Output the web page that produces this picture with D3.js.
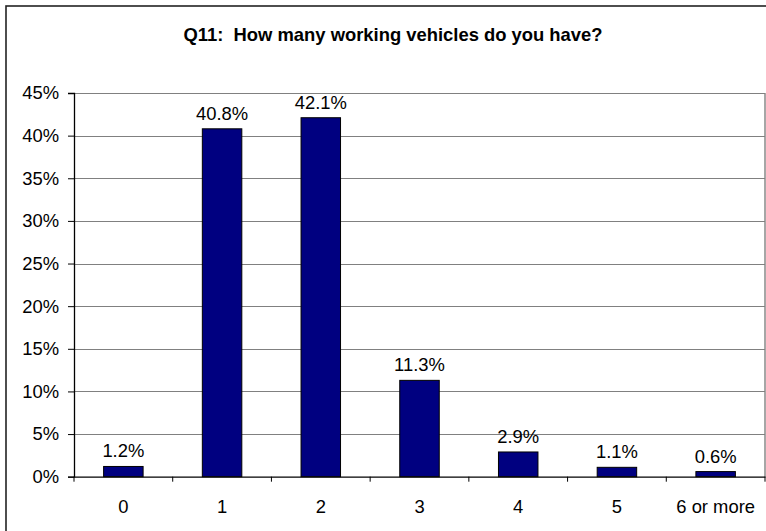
<!DOCTYPE html>
<html>
<head>
<meta charset="utf-8">
<script src="https://cdn.jsdelivr.net/npm/d3@7"></script>
<style>
  html, body { margin: 0; padding: 0; background: #fff; }
  svg { display: block; }
  text { font-family: Arial, "Liberation Sans", sans-serif; fill: #000; }
</style>
</head>
<body>
<svg id="chart" width="766" height="531"></svg>
<script>
const title = "Q11:  How many working vehicles do you have?";
const categories = ["0", "1", "2", "3", "4", "5", "6 or more"];
const values = [1.2, 40.8, 42.1, 11.3, 2.9, 1.1, 0.6];
const yTicks = [0, 5, 10, 15, 20, 25, 30, 35, 40, 45];

const svg = d3.select("#chart");
const W = 766, H = 531;
const FS = 18.4;
svg.append("rect").attr("width", W).attr("height", H).attr("fill", "#fff");

// outer chart border
svg.append("rect")
  .attr("x", 6).attr("y", 6).attr("width", 790).attr("height", 560)
  .attr("fill", "none").attr("stroke", "#222").attr("stroke-width", 1.6);

const plot = { left: 74, right: 765, top: 93, bottom: 476.7 };

const x = d3.scaleBand().domain(categories)
  .range([plot.left, plot.right]).paddingInner(0.6).paddingOuter(0.3);
const xTickScale = d3.scaleBand().domain(categories).range([plot.left, plot.right]);
const y = d3.scaleLinear().domain([0, 45]).range([plot.bottom, plot.top]);

// title
svg.append("text")
  .attr("x", 393).attr("y", 40.5)
  .attr("text-anchor", "middle")
  .attr("font-size", 18.4).attr("font-weight", "bold")
  .style("white-space", "pre")
  .text(title);

// gridlines
svg.append("g").selectAll("line").data(yTicks.filter(d => d > 0)).join("line")
  .attr("x1", plot.left).attr("x2", plot.right)
  .attr("y1", d => Math.round(y(d)) + 0.5).attr("y2", d => Math.round(y(d)) + 0.5)
  .attr("stroke", "#808080").attr("stroke-width", 1.2);

// right plot border
svg.append("line")
  .attr("x1", plot.right).attr("x2", plot.right)
  .attr("y1", plot.top).attr("y2", plot.bottom)
  .attr("stroke", "#808080").attr("stroke-width", 1.4);

// bars
svg.append("g").selectAll("rect").data(values).join("rect")
  .attr("x", (d, i) => x(categories[i]))
  .attr("y", d => y(d))
  .attr("width", x.bandwidth())
  .attr("height", d => plot.bottom - y(d))
  .attr("fill", "#000080").attr("stroke", "#000").attr("stroke-width", 1);

// data labels
svg.append("g").selectAll("text").data(values).join("text")
  .attr("x", (d, i) => x(categories[i]) + x.bandwidth() / 2)
  .attr("y", d => y(d) - 9)
  .attr("text-anchor", "middle").attr("font-size", FS)
  .text(d => d.toFixed(1) + "%");

// y axis
const yAxis = d3.axisLeft(y).tickValues(yTicks).tickSize(6).tickPadding(9)
  .tickFormat(d => d + "%");
const gy = svg.append("g").attr("transform", `translate(${plot.left},0)`).call(yAxis);
gy.select(".domain").attr("stroke", "#000").attr("stroke-width", 1.3);
gy.selectAll(".tick line").attr("stroke", "#000");
gy.selectAll(".tick text").attr("font-size", FS).attr("font-family", "Arial, 'Liberation Sans', sans-serif").attr("fill", "#000");

// x axis
const xAxis = d3.axisBottom(xTickScale).tickSize(0).tickPadding(0);
const gx = svg.append("g").attr("transform", `translate(0,${plot.bottom})`).call(xAxis);
gx.select(".domain").attr("stroke", "#000").attr("stroke-width", 1.3);
gx.selectAll(".tick text").attr("font-size", FS)
  .attr("font-family", "Arial, 'Liberation Sans', sans-serif").attr("fill", "#000")
  .attr("dy", null).attr("y", 36);
// boundary tick marks between categories
const bounds = categories.map(c => xTickScale(c)).concat([plot.right]);
svg.append("g").selectAll("line").data(bounds).join("line")
  .attr("x1", d => d).attr("x2", d => d)
  .attr("y1", plot.bottom).attr("y2", plot.bottom + 5)
  .attr("stroke", "#000").attr("stroke-width", 1);
</script>
</body>
</html>
